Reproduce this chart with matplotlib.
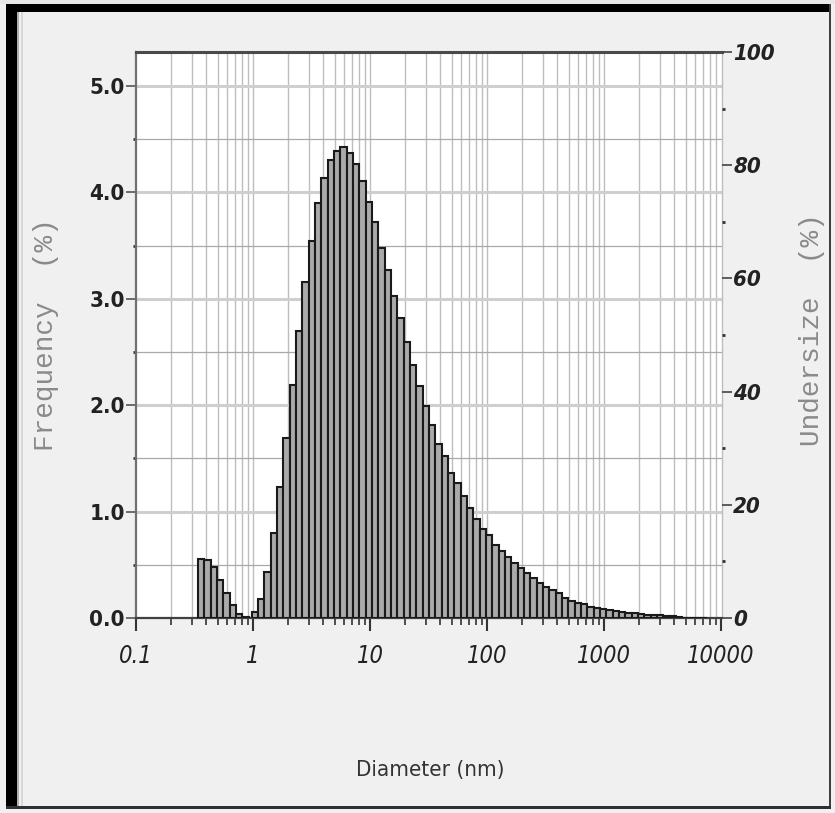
import matplotlib
matplotlib.use("Agg")
import matplotlib.pyplot as plt
from matplotlib.patches import Rectangle
from matplotlib.ticker import FixedLocator, NullFormatter
import numpy as np

# ---------------- data ----------------
# bin centres (nm) of the small-size group and frequencies (%)
diam_small = [0.361, 0.409, 0.463, 0.524, 0.594, 0.673, 0.762, 0.864]
freq_small = [0.55, 0.545, 0.48, 0.357, 0.232, 0.122, 0.038, 0.008]

# bin centres (nm) of the main group and frequencies (%)
diam_main = [1.038, 1.176, 1.332, 1.509, 1.709, 1.936, 2.192, 2.483, 2.812, 3.185,
             3.608, 4.087, 4.629, 5.244, 5.940, 6.729, 7.618, 8.630, 9.773, 11.07,
             12.54, 14.21, 16.09, 18.23, 20.64, 23.38, 26.48, 30.00, 33.98, 38.48,
             43.59, 49.37, 55.92, 63.34, 71.75, 81.27, 92.01, 104.2, 118.1, 133.7,
             151.5, 171.5, 194.3, 220.1, 249.3, 282.4, 319.8, 362.3, 410.4, 464.8,
             526.5, 596.4, 675.5, 765.2, 866.6, 981.2, 1111, 1259, 1426, 1615,
             1829, 2072, 2347, 2658, 3011, 3410, 3863, 4375, 4956, 5613,
             6358, 7202]
freq_main = [0.06, 0.176, 0.435, 0.80, 1.234, 1.695, 2.19, 2.70, 3.16, 3.54,
             3.90, 4.14, 4.30, 4.39, 4.43, 4.37, 4.27, 4.11, 3.91, 3.72,
             3.48, 3.27, 3.03, 2.82, 2.59, 2.375, 2.18, 1.99, 1.81, 1.64,
             1.52, 1.365, 1.265, 1.147, 1.037, 0.928, 0.834, 0.78, 0.686, 0.63,
             0.576, 0.514, 0.467, 0.42, 0.373, 0.326, 0.288, 0.263, 0.232, 0.185,
             0.163, 0.144, 0.13, 0.106, 0.09, 0.085, 0.075, 0.065, 0.055, 0.05,
             0.045, 0.035, 0.03, 0.028, 0.025, 0.022, 0.02, 0.005, 0.004, 0.003,
             0.002, 0.002]

x_ticks = [0.1, 1, 10, 100, 1000, 10000]
x_ticklabels = ["0.1", "1", "10", "100", "1000", "10000"]
left_ticks = [0, 1, 2, 3, 4, 5]
left_ticklabels = ["0.0", "1.0", "2.0", "3.0", "4.0", "5.0"]
right_ticks = [0, 20, 40, 60, 80, 100]
right_ticklabels = ["0", "20", "40", "60", "80", "100"]

x_label = "Diameter (nm)"
left_label = "Frequency  (%)"
right_label = "Undersize  (%)"

# ---------------- style ----------------
W, H = 835, 813
bin_ratio = 10 ** 0.0541
bg = "#f0f0f0"
narrow = ["DejaVu Sans"]
mono = ["Liberation Mono", "DejaVu Sans Mono"]

fig = plt.figure(figsize=(W / 100, H / 100), dpi=100, facecolor=bg)
ax = fig.add_axes([136 / W, (H - 618) / H, 586 / W, 566 / H])
ax.set_facecolor("white")
ax.set_xscale("log")
ax.set_xlim(0.1, 10000 * 1.02)
ax.set_ylim(0, 566 / 106.4)

# grid lines
minor_x = [m * 10.0 ** e for e in range(-1, 4) for m in range(2, 10)]
for xv in minor_x + x_ticks[1:-1]:
    ax.axvline(xv, color="#bdbdbd", lw=1.0, zorder=0)
for yv in np.arange(0.5, 5.01, 1.0):
    ax.axhline(yv, color="#a9a9a9", lw=0.9, zorder=0)
for yv in left_ticks[1:]:
    ax.axhline(yv, color="#cfcfcf", lw=2.2, zorder=0)

# bars
def draw_bars(d, f):
    d = np.asarray(d, dtype=float)
    left = d / np.sqrt(bin_ratio)
    right = d * np.sqrt(bin_ratio)
    ax.bar(left, f, width=right - left, align="edge", color="#aaaaaa",
           edgecolor="#1a1a1a", linewidth=1.5, zorder=3)

draw_bars(diam_small, freq_small)
draw_bars(diam_main, freq_main)

# spines
ax.spines["left"].set_color("#707070")
ax.spines["left"].set_linewidth(1.6)
ax.spines["top"].set_color("#4a4a4a")
ax.spines["top"].set_linewidth(2.2)
ax.spines["bottom"].set_color("#404040")
ax.spines["bottom"].set_linewidth(1.6)
ax.spines["right"].set_color("#bdbdbd")
ax.spines["right"].set_linewidth(1.0)

tick_font = dict(family=narrow, stretch="condensed")

# x ticks
ax.xaxis.set_major_locator(FixedLocator(x_ticks))
ax.set_xticklabels(x_ticklabels, style="italic", fontsize=17,
                   color="#222222", **tick_font)
ax.xaxis.set_minor_locator(FixedLocator(minor_x))
ax.xaxis.set_minor_formatter(NullFormatter())
ax.tick_params(axis="x", which="major", direction="out", length=9, width=1.5,
               color="#333333", pad=10)
ax.tick_params(axis="x", which="minor", direction="out", length=5, width=1.2,
               color="#333333")

# left y ticks
ax.yaxis.set_major_locator(FixedLocator(left_ticks))
ax.set_yticklabels(left_ticklabels, weight="bold", fontsize=16,
                   color="#222222", **tick_font)
ax.yaxis.set_minor_locator(FixedLocator([0.5, 1.5, 2.5, 3.5, 4.5]))
ax.tick_params(axis="y", which="major", direction="out", length=7, width=1.2,
               color="#555555", pad=1)
ax.tick_params(axis="y", which="minor", direction="out", length=2, width=2,
               color="#333333")

# right axis
ax2 = ax.twinx()
ax2.set_ylim(0, 100)
ax2.yaxis.set_major_locator(FixedLocator(right_ticks))
ax2.set_yticklabels(right_ticklabels, weight="bold", style="italic",
                    fontsize=16, color="#222222", **tick_font)
ax2.yaxis.set_minor_locator(FixedLocator([10, 30, 50, 70, 90]))
ax2.tick_params(axis="y", which="major", direction="out", length=7, width=1.2,
                color="#444444", pad=1)
ax2.tick_params(axis="y", which="minor", direction="out", length=2, width=2,
                color="#333333", pad=1)
for s in ax2.spines.values():
    s.set_visible(False)

# axis labels
fig.text(46 / W, 1 - 335 / H, left_label, rotation=90, ha="center", va="center",
         family=mono, fontsize=20, color="#8a8a8a")
fig.text(812 / W, 1 - 330 / H, right_label, rotation=90, ha="center", va="center",
         family=mono, fontsize=20, color="#8a8a8a")
fig.text(430 / W, 1 - 770 / H, x_label, ha="center", va="center",
         family=narrow, stretch="condensed", fontsize=16, color="#333333")

# window frame
def fig_rect(x0, y0, x1, y1, color):
    fig.add_artist(Rectangle((x0 / W, 1 - y1 / H), (x1 - x0) / W, (y1 - y0) / H,
                             transform=fig.transFigure, facecolor=color,
                             edgecolor="none", zorder=10))

fig_rect(0, 0, W, 4, "#e8e8e8")
fig_rect(6, 4, W - 4, 12, "black")
fig_rect(6, 4, 17, H - 4, "black")
fig_rect(17, 12, 19, H - 6, "#b0b0b0")
fig_rect(21, 12, 23, H - 6, "#d8d8d8")
fig_rect(W - 6, 4, W - 4, H - 4, "#404040")
fig_rect(6, H - 7, W - 4, H - 4, "#303030")

fig.savefig("out.png", dpi=100, facecolor=bg)
